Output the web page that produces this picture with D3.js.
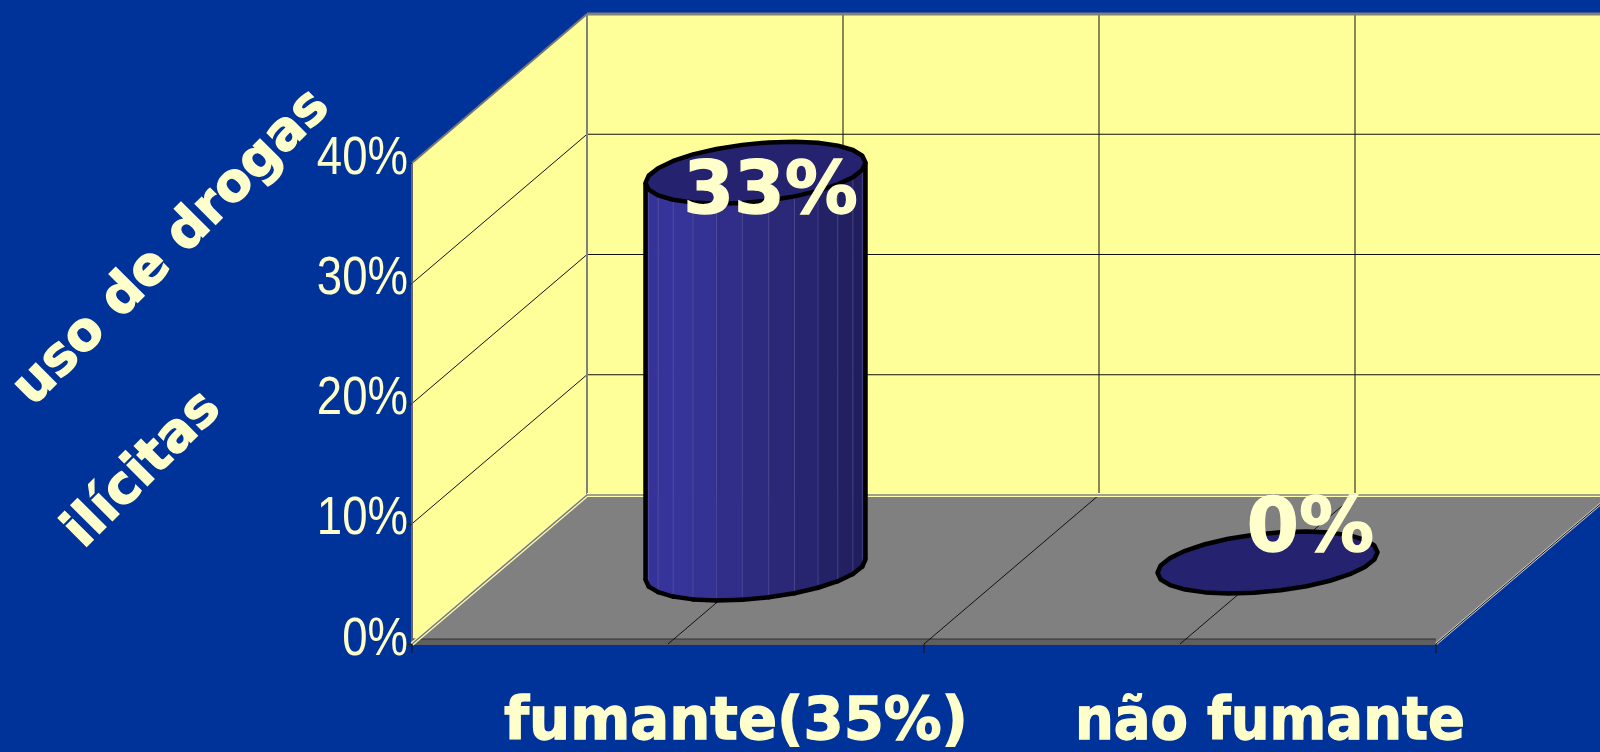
<!DOCTYPE html>
<html>
<head>
<meta charset="utf-8">
<script src="https://cdn.jsdelivr.net/npm/d3@7"></script>
<style>
  html, body { margin: 0; padding: 0; background: #003399; overflow: hidden; }
  svg { display: block; }
  text { fill: #ffffcc; }
  .heavy { stroke: #ffffcc; stroke-width: 1.3px; font-family: 'DejaVu Sans'; font-weight: bold; }
</style>
</head>
<body>
<div id="chart"></div>
<script>
var categories = ["fumante(35%)", "não fumante"];
var values = [0.33, 0];
var yTicks = [0, 0.1, 0.2, 0.3, 0.4];
var axisTitle = ["uso de drogas", "ilícitas"];

var width = 1600;
var height = 752;

// the "3d" box: front plane plus a shift for going to the back wall
var depthX = 175;
var depthY = -149;

var xScale = d3.scaleBand().domain(categories).range([412, 1436]);
var yScale = d3.scaleLinear().domain([0, 0.4]).range([644, 163]);
var pct = d3.format(".0%");

var svg = d3.select("#chart").append("svg")
  .attr("width", width)
  .attr("height", height);

var line = d3.line();

function back(p) {
  return [p[0] + depthX, p[1] + depthY];
}

function poly(points, fill, stroke, sw) {
  return svg.append("path")
    .attr("d", line(points) + "Z")
    .attr("fill", fill)
    .attr("stroke", stroke || "none")
    .attr("stroke-width", sw || 0);
}

function seg(a, b, stroke, sw) {
  return svg.append("path")
    .attr("d", line([a, b]))
    .attr("fill", "none")
    .attr("stroke", stroke)
    .attr("stroke-width", sw);
}

var x0 = xScale.range()[0];
var x1 = xScale.range()[1];
var y0 = yScale(0);
var yTop = yScale(0.4);

// walls
poly([[x0, y0], [x0, yTop], back([x0, yTop]), back([x0, y0])], "#ffff99");
poly([back([x0, y0]), back([x0, yTop]), back([x1, yTop]), back([x1, y0])], "#ffff99");

// floor
poly([[x0, y0], back([x0, y0]), back([x1, y0]), [x1, y0]], "#808080");
poly([[x0, y0 - 5], [x1, y0 - 5], [x1, y0 + 1], [x0, y0 + 1]], "#5f5f5f");
seg([x0, y0 - 5], [x1, y0 - 5], "#333", 1);

// gridlines on both walls
yTicks.slice(1, -1).forEach(function(t) {
  var y = yScale(t);
  seg([x0, y], back([x0, y]), "#111", 1);
  seg(back([x0, y]), back([x1, y]), "#111", 1);
});

var xEdges = [x0 + xScale.bandwidth() / 2, x0 + xScale.bandwidth(), x0 + xScale.bandwidth() * 1.5];
xEdges.forEach(function(x) {
  seg([x, y0], back([x, y0]), "#111", 1);
  seg(back([x, y0]), back([x, yTop]), "#111", 1);
});

// box edges
seg(back([x0, yTop]), back([x1, yTop]), "#808080", 3);
seg([x0, yTop], back([x0, yTop]), "#777", 2);
seg(back([x0, yTop]), back([x0, y0]), "#808080", 2);
seg([x0, yTop], [x0, y0], "#666", 2);
seg([x0, y0], back([x0, y0]), "#ffffb0", 4);
seg([x0, y0], back([x0, y0]), "#777", 1.5);
seg(back([x0, y0]), back([x1, y0]), "#ffffb0", 4);
seg(back([x0, y0]), back([x1, y0]), "#808080", 1.5);
seg([x1, y0], back([x1, y0]), "#ccc", 2.5);
seg([x1, y0], back([x1, y0]), "#111", 1);

// axes
var yAxis = d3.axisLeft(yScale)
  .tickValues(yTicks)
  .tickFormat(pct)
  .tickSize(8)
  .tickPadding(4);

var yG = svg.append("g")
  .attr("transform", "translate(" + x0 + ",0)")
  .call(yAxis);
yG.select(".domain").remove();
yG.selectAll("line").attr("stroke", "#222");
yG.selectAll("text")
  .attr("x", 0)
  .attr("dy", null)
  .attr("text-anchor", "end")
  .style("font-family", "'Liberation Sans'")
  .style("font-size", "53px")
  .attr("transform", "translate(-4,10) scale(0.86,1)");

var xTicks = [x0, x0 + xScale.bandwidth(), x1];
xTicks.forEach(function(x) {
  seg([x, y0], [x, y0 + 9], "#111", 1);
});

var labelX = [736, 1270];
var labelLen = [464, 390];
svg.selectAll(".cat")
  .data(categories)
  .enter().append("text")
  .attr("class", "cat heavy")
  .attr("x", function(d, i) { return labelX[i]; })
  .attr("y", 739)
  .attr("text-anchor", "middle")
  .attr("textLength", function(d, i) { return labelLen[i]; })
  .attr("lengthAdjust", "spacingAndGlyphs")
  .style("font-size", "58px")
  .text(function(d) { return d; });

// cylinders
var radiusX = 103.8;
var radiusD = 0.208;
var ringSteps = 26;
var zeroLift = 7; // an empty bar is drawn as a flat disc, a bit above the floor centre
var colorSide = d3.scaleLinear()
  .domain([0, 0.15, 1])
  .range(["#35339a", "#37359b", "#1f1d5a"]);

function ring(cx, cy) {
  var pts = [];
  // start at the rightmost point, so the sides of the silhouette are vertices
  var start = Math.atan2(radiusD * depthX, radiusX);
  for (var i = 0; i < ringSteps; i++) {
    var t = start + i / ringSteps * Math.PI * 2;
    pts.push([
      cx + radiusX * Math.cos(t) + radiusD * depthX * Math.sin(t),
      cy + radiusD * depthY * Math.sin(t)
    ]);
  }
  return pts;
}

function cylinder(d, i) {
  var cx = xScale(categories[i]) + xScale.bandwidth() / 2 + depthX / 2;
  var cyBase = y0 + depthY / 2;
  var h = y0 - yScale(d);
  if (h == 0) {
    cyBase -= zeroLift;
  }
  var bottom = ring(cx, cyBase);
  var top = ring(cx, cyBase - h);

  if (h > 0) {
    var lo = d3.min(bottom, function(p) { return p[0]; });
    var hi = d3.max(bottom, function(p) { return p[0]; });
    var half = ringSteps / 2;
    // side facets, only the ones facing us
    for (var k = half; k < ringSteps; k++) {
      var a = bottom[k];
      var b = bottom[(k + 1) % ringSteps];
      var m = ((a[0] + b[0]) / 2 - lo) / (hi - lo);
      poly([a, b, [b[0], b[1] - h], [a[0], a[1] - h]], colorSide(m), colorSide(m), 0.6);
      seg(a, [a[0], a[1] - h], "#5a58a0", 0.6);
    }
    seg(bottom[half], top[half], "#000", 4.5);
    seg(bottom[0], top[0], "#000", 4.5);
    for (var j = half; j < ringSteps; j++) {
      seg(bottom[j], bottom[(j + 1) % ringSteps], "#000", 4.5).attr("stroke-linecap", "round");
    }
  }
  poly(top, "#25236f", "#000", 4.5).attr("stroke-linejoin", "round");

  return [cx, cyBase - h];
}

var tops = values.map(cylinder);

// value labels sit over the lids
var labelShift = [[15, 40], [43, -12]];
var labelSize = [73, 75];
svg.selectAll(".val")
  .data(values)
  .enter().append("text")
  .attr("class", "val heavy")
  .attr("x", function(d, i) { return tops[i][0] + labelShift[i][0]; })
  .attr("y", function(d, i) { return tops[i][1] + labelShift[i][1]; })
  .attr("text-anchor", "middle")
  .style("font-size", function(d, i) { return labelSize[i] + "px"; })
  .text(function(d) { return pct(d); });

// rotated axis title, two lines
var titlePos = [[182, 258], [153, 480]];
svg.selectAll(".title")
  .data(axisTitle)
  .enter().append("text")
  .attr("class", "title heavy")
  .attr("text-anchor", "middle")
  .attr("transform", function(d, i) {
    return "translate(" + titlePos[i][0] + "," + titlePos[i][1] + ") rotate(-45)";
  })
  .style("font-size", "53px")
  .text(function(d) { return d; });
</script>
</body>
</html>
